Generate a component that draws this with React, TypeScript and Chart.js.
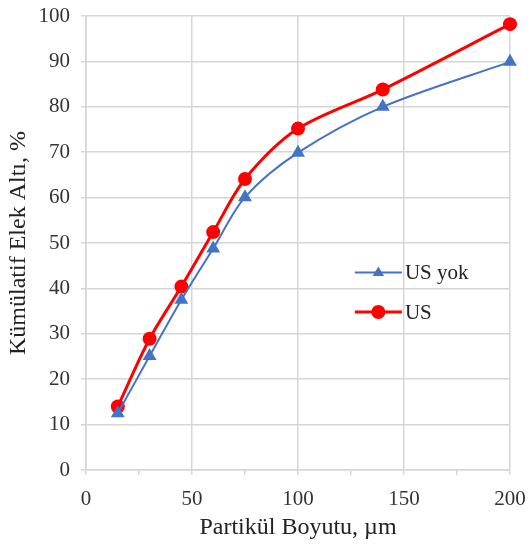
import React, { useEffect, useRef } from "react";
import { Chart, registerables } from "chart.js";

Chart.register(...registerables);

const particleSizes = [15, 30, 45, 60, 75, 100, 140, 200];
const usYok = [12.5, 25.1, 37.5, 48.8, 60.1, 69.9, 80.0, 89.9];
const us = [14.0, 28.9, 40.4, 52.4, 64.1, 75.2, 83.8, 98.2];
const seriesNames = ["US yok", "US"];
const xTitle = "Partikül Boyutu, µm";
const yTitle = "Kümülatif Elek Altı, %";

const BLUE = "#4472C4";
const RED = "#FF0000";
const GRID = "#d6d6d6";
const FONT = '"Liberation Serif", "Times New Roman", serif';

const legendPlugin = {
  id: "insideLegend",
  afterDatasetsDraw(chart: any) {
    const { ctx, chartArea } = chart;
    const w = chartArea.right - chartArea.left;
    const h = chartArea.bottom - chartArea.top;
    const lineStart = chartArea.left + w * 0.634;
    const lineEnd = chartArea.left + w * 0.745;
    const textX = lineEnd + 3;
    const rows = [chartArea.top + h * 0.565, chartArea.top + h * 0.652];
    chart.data.datasets.forEach((ds: any, i: number) => {
      const y = rows[i];
      ctx.save();
      ctx.strokeStyle = ds.borderColor;
      ctx.lineWidth = ds.borderWidth;
      ctx.beginPath();
      ctx.moveTo(lineStart, y);
      ctx.lineTo(lineEnd, y);
      ctx.stroke();
      const mx = (lineStart + lineEnd) / 2;
      ctx.fillStyle = ds.pointBackgroundColor;
      ctx.beginPath();
      if (ds.pointStyle === "triangle") {
        const r = 6;
        ctx.moveTo(mx, y - r);
        ctx.lineTo(mx + r * 0.95, y + r * 0.6);
        ctx.lineTo(mx - r * 0.95, y + r * 0.6);
        ctx.closePath();
      } else {
        ctx.arc(mx, y, 7, 0, Math.PI * 2);
      }
      ctx.fill();
      ctx.fillStyle = "#222";
      ctx.font = `21px ${FONT}`;
      ctx.textBaseline = "middle";
      ctx.textAlign = "left";
      ctx.fillText(ds.label, textX, y + 1);
      ctx.restore();
    });
  },
};

export default function App() {
  const ref = useRef<HTMLCanvasElement | null>(null);

  useEffect(() => {
    if (!ref.current) return;
    const chart = new Chart(ref.current, {
      type: "line",
      data: {
        datasets: [
          {
            label: seriesNames[0],
            data: particleSizes.map((x, i) => ({ x, y: usYok[i] })),
            borderColor: BLUE,
            backgroundColor: BLUE,
            pointBackgroundColor: BLUE,
            pointBorderColor: BLUE,
            borderWidth: 2,
            pointStyle: "triangle",
            pointRadius: 8,
            pointBorderWidth: 0,
            tension: 0.3,
            clip: false,
          } as any,
          {
            label: seriesNames[1],
            data: particleSizes.map((x, i) => ({ x, y: us[i] })),
            borderColor: RED,
            backgroundColor: RED,
            pointBackgroundColor: RED,
            pointBorderColor: RED,
            borderWidth: 3,
            pointStyle: "circle",
            pointRadius: 7,
            pointBorderWidth: 0,
            tension: 0.3,
            clip: false,
          } as any,
        ],
      },
      options: {
        responsive: false,
        animation: false,
        layout: { padding: { top: 16, right: 20, left: 0, bottom: 0 } },
        plugins: {
          legend: { display: false },
          tooltip: { enabled: false },
        },
        scales: {
          x: {
            type: "linear",
            min: 0,
            max: 200,
            afterFit: (s: any) => {
              s.height = 75;
              s.paddingLeft = 0;
              s.paddingRight = 0;
            },
            ticks: {
              stepSize: 25,
              autoSkip: false,
              maxRotation: 0,
              padding: 12,
              color: "#333",
              font: { family: FONT, size: 21 },
              callback: (v: any) => (Number(v) % 50 === 0 ? String(v) : ""),
            },
            grid: {
              color: (c: any) =>
                c.tick && c.tick.value % 50 === 0 ? GRID : "rgba(0,0,0,0)",
              tickColor: GRID,
              lineWidth: 1.5,
              tickLength: 5,
            },
            border: { color: GRID, width: 1.5 },
            title: {
              display: true,
              text: xTitle,
              color: "#222",
              font: { family: FONT, size: 24 },
              padding: { top: 0, bottom: 3 },
            },
          },
          y: {
            type: "linear",
            min: 0,
            max: 100,
            afterFit: (s: any) => {
              s.width = 86;
              s.paddingTop = 0;
              s.paddingBottom = 0;
            },
            ticks: {
              stepSize: 10,
              padding: 11,
              color: "#333",
              font: { family: FONT, size: 21 },
            },
            grid: {
              color: GRID,
              tickColor: GRID,
              lineWidth: 1.5,
              tickLength: 5,
            },
            border: { color: GRID, width: 1.5 },
            title: {
              display: true,
              text: yTitle,
              color: "#222",
              font: { family: FONT, size: 24 },
              padding: { top: 4, bottom: 0 },
            },
          },
        },
      },
      plugins: [legendPlugin],
    } as any);
    return () => chart.destroy();
  }, []);

  return (
    <div style={{ position: "absolute", left: 0, top: 0, width: 530, height: 545, background: "#fff" }}>
      <canvas ref={ref} width={530} height={545} />
    </div>
  );
}
